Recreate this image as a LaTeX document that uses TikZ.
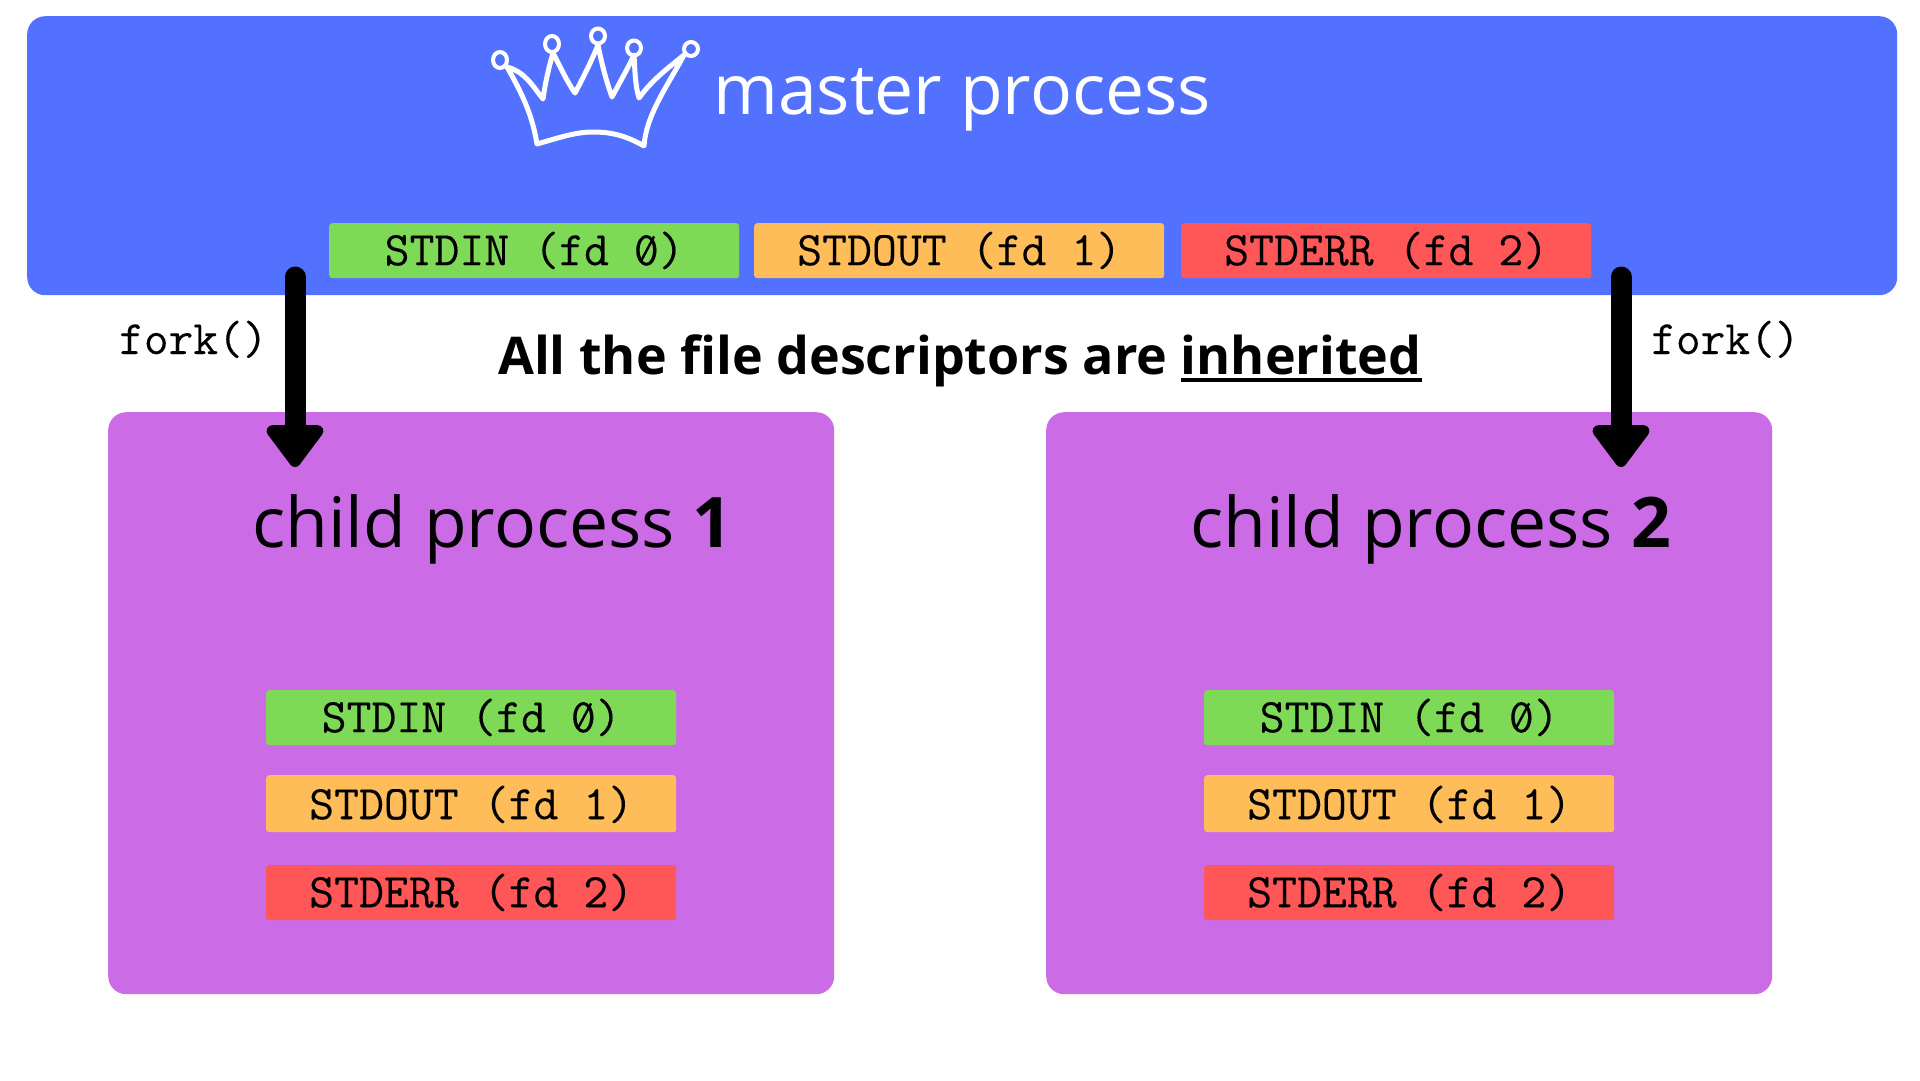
\documentclass[tikz,border=0pt]{standalone}
\usepackage{fontspec}
\setmainfont{Open Sans}
\newfontfamily\plainmono[FakeBold=0.15]{Latin Modern Mono}
\usetikzlibrary{arrows.meta}
\definecolor{mblue}{HTML}{5271FF}
\definecolor{mpurple}{HTML}{CB6CE6}
\definecolor{mgreen}{HTML}{7ED957}
\definecolor{morange}{HTML}{FFBD59}
\definecolor{mred}{HTML}{FF5757}
\newcommand\szero{\rlap{\kern6pt\raisebox{3.5pt}{\rotatebox{62}{\rule{28pt}{2.4pt}}}}0}
\newcommand\myul[1]{\setbox0\hbox{#1}\rlap{\rule[-8pt]{\wd0}{4pt}}\box0}
\tikzset{
  panel/.style={draw=none,rounded corners=18pt,inner sep=0pt,anchor=north west},
  bar/.style={draw=none,rounded corners=3pt,inner sep=0pt,anchor=north west,
    minimum width=410pt,text depth=13pt,text height=42pt,text=black,
    font=\plainmono\fontsize{48.4}{50}\selectfont},
  tallbar/.style={bar,text height=44pt},
  title/.style={inner sep=0pt,anchor=base west,font=\fontsize{69.7}{80}\selectfont},
  forklabel/.style={inner sep=0pt,anchor=base west,font=\plainmono\fontsize{48}{50}\selectfont},
  forkarrow/.style={line width=21pt,line cap=round,-{Triangle[length=46pt,width=65pt,round]}},
  crownline/.style={draw=white,line width=5pt,line join=round,line cap=round},
}
\begin{document}
\begin{tikzpicture}[x=1pt,y=-1pt]
\useasboundingbox (0,0) rectangle (1920,1080);
\fill[white] (0,0) rectangle (1920,1080);
\node[panel,fill=mblue,minimum width=1870pt,minimum height=279pt] (master) at (27,16) {};
\node[panel,fill=mpurple,minimum width=726pt,minimum height=582pt] (child1) at (108,412) {};
\node[panel,fill=mpurple,minimum width=726pt,minimum height=582pt] (child2) at (1046,412) {};
% crown
\draw[crownline,line width=4pt] (500,60) ellipse (7pt and 8pt) (552,44) ellipse (7pt and 8pt)
  (598,36) ellipse (7pt and 7.5pt) (634,48) ellipse (7pt and 7.5pt) (691,49) ellipse (7pt and 7pt);
\draw[crownline] (507,67) .. controls (525,72) and (532,85) .. (543,99)
  .. controls (545,85) and (548,70) .. (553,53)
  .. controls (561,68) and (566,80) .. (575,93)
  .. controls (583,78) and (592,60) .. (598,45)
  .. controls (602,65) and (606,80) .. (612,97)
  .. controls (620,82) and (628,68) .. (634,55)
  .. controls (635,70) and (635,85) .. (639,98)
  .. controls (652,80) and (668,68) .. (684,55)
  .. controls (668,85) and (646,115) .. (644,146)
  .. controls (625,135) and (610,132) .. (593,132)
  .. controls (575,132) and (558,138) .. (537,144)
  .. controls (533,120) and (526,100) .. (507,67) -- cycle;
\node[title,text=white] (mt) at (713,114) {master process};
% top row
\node[bar,fill=mgreen] (a0) at (329,223) {STDIN (fd \szero)};
\node[bar,fill=morange] (a1) at (754,223) {STDOUT (fd 1)};
\node[bar,fill=mred] (a2) at (1181,223) {STDERR (fd 2)};
% child 1
\node[title] (c1t) at (252,547) {child process \textbf{1}};
\node[bar,fill=mgreen] (b0) at (266,690) {STDIN (fd \szero)};
\node[tallbar,fill=morange] (b1) at (266,775) {STDOUT (fd 1)};
\node[bar,fill=mred] (b2) at (266,865) {STDERR (fd 2)};
% child 2
\node[title] (c2t) at (1190,547) {child process \textbf{2}};
\node[bar,fill=mgreen] (d0) at (1204,690) {STDIN (fd \szero)};
\node[tallbar,fill=morange] (d1) at (1204,775) {STDOUT (fd 1)};
\node[bar,fill=mred] (d2) at (1204,865) {STDERR (fd 2)};
% caption
\node[inner sep=0pt,anchor=base west,font=\bfseries\fontsize{52}{60}\selectfont] (cap) at (498,374) {All the file descriptors are \myul{inherited}};
% connectors
\coordinate (s1) at (295,277);
\coordinate (e1) at (295,467);
\coordinate (s2) at (1621,277);
\coordinate (e2) at (1621,467);
\draw[forkarrow] (s1) -- (e1);
\draw[forkarrow] (s2) -- (e2);
\node[forklabel] (f1) at (119,354) {fork()};
\node[forklabel] (f2) at (1651,354) {fork()};
\end{tikzpicture}
\end{document}
